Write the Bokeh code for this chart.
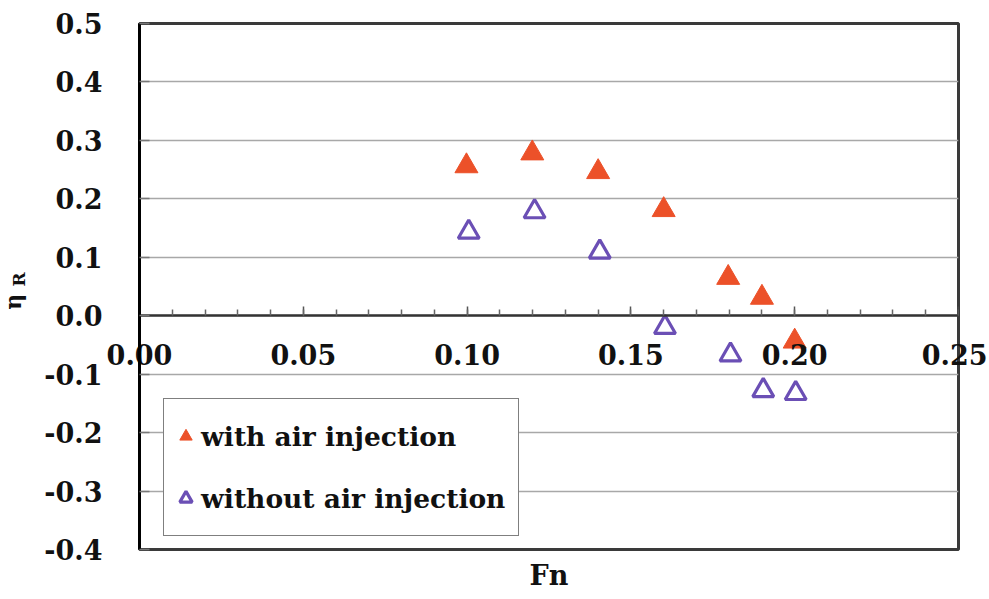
from bokeh.plotting import figure
from bokeh.models import (Range1d, FixedTicker, LinearAxis, Legend, LegendItem, Label)
from bokeh.embed import file_html
from bokeh.resources import INLINE

# ---- data ----
fn_with = [0.0998, 0.1199, 0.1400, 0.1600, 0.1797, 0.1900, 0.2000]
eta_with = [0.256, 0.278, 0.246, 0.181, 0.065, 0.031, -0.044]
fn_without = [0.1005, 0.1206, 0.1405, 0.1604, 0.1804, 0.1904, 0.2003]
eta_without = [0.143, 0.178, 0.109, -0.020, -0.067, -0.128, -0.133]

series_labels = ["with air injection", "without air injection"]

x_ticks = [0.0, 0.05, 0.10, 0.15, 0.20, 0.25]
x_tick_labels = ["0.00", "0.05", "0.10", "0.15", "0.20", "0.25"]
y_ticks = [-0.4, -0.3, -0.2, -0.1, 0.0, 0.1, 0.2, 0.3, 0.4, 0.5]
y_tick_labels = ["-0.4", "-0.3", "-0.2", "-0.1", "0.0", "0.1", "0.2", "0.3", "0.4", "0.5"]
x_minor = [i / 100 for i in range(26)]

FONT = "DejaVu Serif"
RED = "#EC5129"
PURPLE = "#6B4FB5"
TXT = "#111111"

p = figure(width=987, height=597,
           x_range=Range1d(0, 0.25), y_range=Range1d(-0.4, 0.5),
           output_backend="svg", toolbar_location=None,
           min_border_left=139, min_border_right=29,
           min_border_top=23, min_border_bottom=48,
           background_fill_color="white", border_fill_color="white")

p.outline_line_color = "#3a3a3a"
p.outline_line_width = 3

# x axis line + ticks drawn at y = 0
xa = p.xaxis[0]
xa.fixed_location = 0
xa.ticker = FixedTicker(ticks=x_ticks, minor_ticks=x_minor)
xa.major_label_text_font_size = "0px"
xa.major_label_text_color = None
xa.axis_line_color = "#333333"
xa.axis_line_width = 2.5
xa.major_tick_in = 9
xa.major_tick_out = 0
xa.minor_tick_in = 6
xa.minor_tick_out = 0
xa.major_tick_line_color = "#555555"
xa.minor_tick_line_color = "#666666"
xa.major_tick_line_width = 1.5
xa.minor_tick_line_width = 1.5

# extra axis just for the title "Fn"
fn_axis = LinearAxis(ticker=FixedTicker(ticks=[]), axis_label="Fn",
                     axis_line_color=None, major_tick_line_color=None,
                     minor_tick_line_color=None,
                     major_label_text_font_size="0px",
                     axis_label_standoff=10,
                     axis_label_text_font=FONT,
                     axis_label_text_font_style="bold",
                     axis_label_text_font_size="27px",
                     axis_label_text_color=TXT)
p.add_layout(fn_axis, "below")

# x tick labels: a label-only axis whose labels are pulled up just below y = 0
lab_axis = LinearAxis(ticker=FixedTicker(ticks=x_ticks),
                      major_label_overrides={t: s for t, s in zip(x_ticks, x_tick_labels)},
                      axis_line_color=None, major_tick_line_color=None,
                      minor_tick_line_color=None,
                      major_tick_in=0, major_tick_out=0,
                      minor_tick_in=0, minor_tick_out=0,
                      major_label_standoff=-250,
                      major_label_text_font=FONT,
                      major_label_text_font_style="bold",
                      major_label_text_font_size="27px",
                      major_label_text_color=TXT)
p.add_layout(lab_axis, "below")

# y axis
ya = p.yaxis[0]
ya.ticker = FixedTicker(ticks=y_ticks)
ya.major_label_overrides = {t: s for t, s in zip(y_ticks, y_tick_labels)}
ya.axis_line_color = "black"
ya.axis_line_width = 3
ya.major_tick_in = 10
ya.major_tick_out = 0
ya.minor_tick_line_color = None
ya.major_tick_line_color = "#777777"
ya.major_tick_line_width = 1.5
ya.major_label_standoff = 37
ya.major_label_text_font = FONT
ya.major_label_text_font_style = "bold"
ya.major_label_text_font_size = "27px"
ya.major_label_text_color = TXT

p.xgrid.visible = False
p.ygrid.ticker = FixedTicker(ticks=y_ticks)
p.ygrid.grid_line_color = "#A8A8A8"
p.ygrid.grid_line_width = 1.5

# y axis title  eta_R (rotated); placed in side panels so it is not clipped
p.add_layout(Label(x=-0.0387, y=0.024, text="η", angle=1.5708,
                   text_align="center", text_baseline="middle",
                   text_font=FONT, text_font_style="bold",
                   text_font_size="22px", text_color=TXT), "left")
p.add_layout(Label(x=-0.0367, y=0.062, text="R", angle=1.5708,
                   text_align="center", text_baseline="middle",
                   text_font=FONT, text_font_style="bold",
                   text_font_size="17px", text_color=TXT), "above")

r1 = p.scatter(fn_with, eta_with, marker="triangle", size=23,
               fill_color=RED, line_color=RED, line_width=1)
r2 = p.scatter(fn_without, eta_without, marker="triangle", size=21,
               fill_color=None, line_color=PURPLE, line_width=3.2)

legend = Legend(items=[LegendItem(label=series_labels[0], renderers=[r1]),
                       LegendItem(label=series_labels[1], renderers=[r2])],
                location=(24, 13),
                border_line_color="black", border_line_width=1.5,
                background_fill_color="white", background_fill_alpha=1,
                padding=6, spacing=0, margin=0,
                glyph_width=31, glyph_height=62,
                label_height=62, label_width=311, label_standoff=0,
                label_text_font=FONT, label_text_font_style="bold",
                label_text_font_size="26.5px", label_text_color=TXT)
p.add_layout(legend)

open("out.html", "w").write(file_html(p, INLINE))
